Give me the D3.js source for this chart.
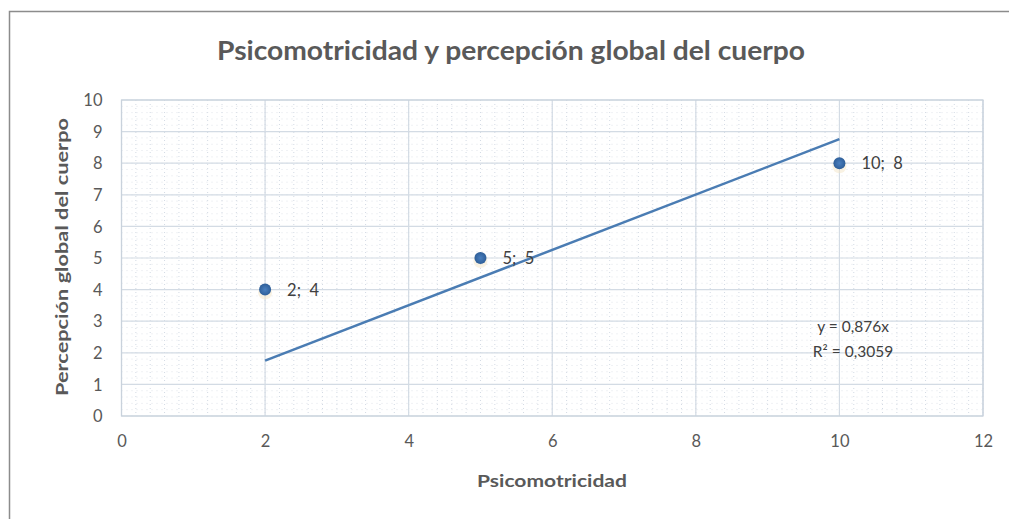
<!DOCTYPE html>
<html><head><meta charset="utf-8">
<script src="https://cdn.jsdelivr.net/npm/d3@7/dist/d3.min.js"></script>
<style>body{margin:0;background:#fff}svg{display:block}</style>
</head><body>
<svg id="c" width="1009" height="519"></svg>
<script>
const xVals = [2, 5, 10];
const yVals = [4, 5, 8];
const pointLabels = ["2; 4", "5; 5", "10; 8"];
const xTicks = [0, 2, 4, 6, 8, 10, 12];
const yTicks = [0, 1, 2, 3, 4, 5, 6, 7, 8, 9, 10];
const trendSlope = 0.876;
const trendRange = [2, 10];
const eqLines = ["y = 0,876x", "R² = 0,3059"];
const title = "Psicomotricidad y percepción global del cuerpo";
const xTitle = "Psicomotricidad";
const yTitle = "Percepción global del cuerpo";

const svg = d3.select("#c");
const font = "Lato, 'Open Sans', sans-serif";
const L = 121.5, R = 983, T = 100, B = 416;
const x = d3.scaleLinear().domain([0, 12]).range([L, R]);
const y = d3.scaleLinear().domain([0, 10]).range([B, T]);

// outer border (top & left visible)
svg.append("path").attr("d", "M9.5,519 V11.5 H1009").attr("fill", "none").attr("stroke", "#8c8c8c").attr("stroke-width", 1.5);

// minor dotted grid
const minorX = d3.range(0, 12.001, 0.2), minorY = d3.range(0, 10.001, 0.2);
const g = svg.append("g");
g.selectAll(".mx").data(minorX).join("line")
  .attr("x1", d => x(d)).attr("x2", d => x(d)).attr("y1", T).attr("y2", B)
  .attr("stroke", "#d3dae4").attr("stroke-width", 1).attr("stroke-dasharray", "1,3");
g.selectAll(".my").data(minorY).join("line")
  .attr("y1", d => y(d)).attr("y2", d => y(d)).attr("x1", L).attr("x2", R)
  .attr("stroke", "#e0e4ea").attr("stroke-width", 1).attr("stroke-dasharray", "1,4");

// major grid
g.selectAll(".gx").data(xTicks).join("line")
  .attr("x1", d => x(d)).attr("x2", d => x(d)).attr("y1", T).attr("y2", B)
  .attr("stroke", "#d3dbe4").attr("stroke-width", 1.2);
g.selectAll(".gy").data(yTicks).join("line")
  .attr("y1", d => y(d)).attr("y2", d => y(d)).attr("x1", L).attr("x2", R)
  .attr("stroke", "#d3dbe4").attr("stroke-width", 1.2);
svg.append("rect").attr("x", L).attr("y", T).attr("width", R - L).attr("height", B - T)
  .attr("fill", "none").attr("stroke", "#c9d2dc").attr("stroke-width", 1.2);

// axes (tick labels only)
const xAxis = svg.append("g").attr("transform", `translate(0,${B})`)
  .call(d3.axisBottom(x).tickValues(xTicks).tickSize(0).tickPadding(19).tickFormat(d3.format("d")));
const yAxis = svg.append("g").attr("transform", `translate(${L},0)`)
  .call(d3.axisLeft(y).tickValues(yTicks).tickSize(0).tickPadding(19).tickFormat(d3.format("d")));
[xAxis, yAxis].forEach(a => {
  a.select(".domain").remove();
  a.selectAll("text").attr("font-family", font).attr("font-size", 16.5).attr("fill", "#595959");
});
yAxis.selectAll("text").attr("dy", "0.35em");

function fit(sel, w) {
  sel.attr("textLength", w).attr("lengthAdjust", "spacingAndGlyphs");
}
const t = svg.append("text").attr("x", 511).attr("y", 60).attr("text-anchor", "middle")
  .attr("font-family", font).attr("font-weight", "bold").attr("font-size", 27).attr("fill", "#595959").text(title);
fit(t, 588);
const xt = svg.append("text").attr("x", 552).attr("y", 487).attr("text-anchor", "middle")
  .attr("font-family", font).attr("font-weight", "bold").attr("font-size", 17).attr("fill", "#595959").text(xTitle);
fit(xt, 150);
const yt = svg.append("text").attr("transform", "translate(68,257) rotate(-90)").attr("text-anchor", "middle")
  .attr("font-family", font).attr("font-weight", "bold").attr("font-size", 17).attr("fill", "#595959").text(yTitle);
fit(yt, 278);

// trendline
svg.append("line")
  .attr("x1", x(trendRange[0])).attr("y1", y(trendSlope * trendRange[0]))
  .attr("x2", x(trendRange[1])).attr("y2", y(trendSlope * trendRange[1]))
  .attr("stroke", "#4a7cb3").attr("stroke-width", 2.5);

// points
const defs = svg.append("defs");
const rg = defs.append("radialGradient").attr("id", "pg");
rg.append("stop").attr("offset", "0%").attr("stop-color", "#4a7fbf");
rg.append("stop").attr("offset", "100%").attr("stop-color", "#2f5f99");
const pts = xVals.map((d, i) => ({ x: d, y: yVals[i], l: pointLabels[i] }));
svg.selectAll(".glow").data(pts).join("circle")
  .attr("cx", d => x(d.x)).attr("cy", d => y(d.y) + 3).attr("r", 7)
  .attr("fill", "#f3e6c8").attr("opacity", 0.5);
svg.selectAll(".pt").data(pts).join("circle")
  .attr("cx", d => x(d.x)).attr("cy", d => y(d.y)).attr("r", 6)
  .attr("fill", "url(#pg)");
svg.selectAll(".pl").data(pts).join("text")
  .attr("x", d => x(d.x) + 22).attr("y", d => y(d.y) + 6)
  .attr("font-family", font).attr("font-size", 16.5).attr("fill", "#404040")
  .attr("xml:space", "preserve").style("white-space", "pre").text(d => d.l.replace("; ", ";  "));

// equation
svg.selectAll(".eq").data(eqLines).join("text")
  .attr("x", 853).attr("y", (d, i) => 332 + i * 25).attr("text-anchor", "middle")
  .attr("font-family", font).attr("font-size", 15.5).attr("fill", "#404040").text(d => d);
</script>
</body></html>
